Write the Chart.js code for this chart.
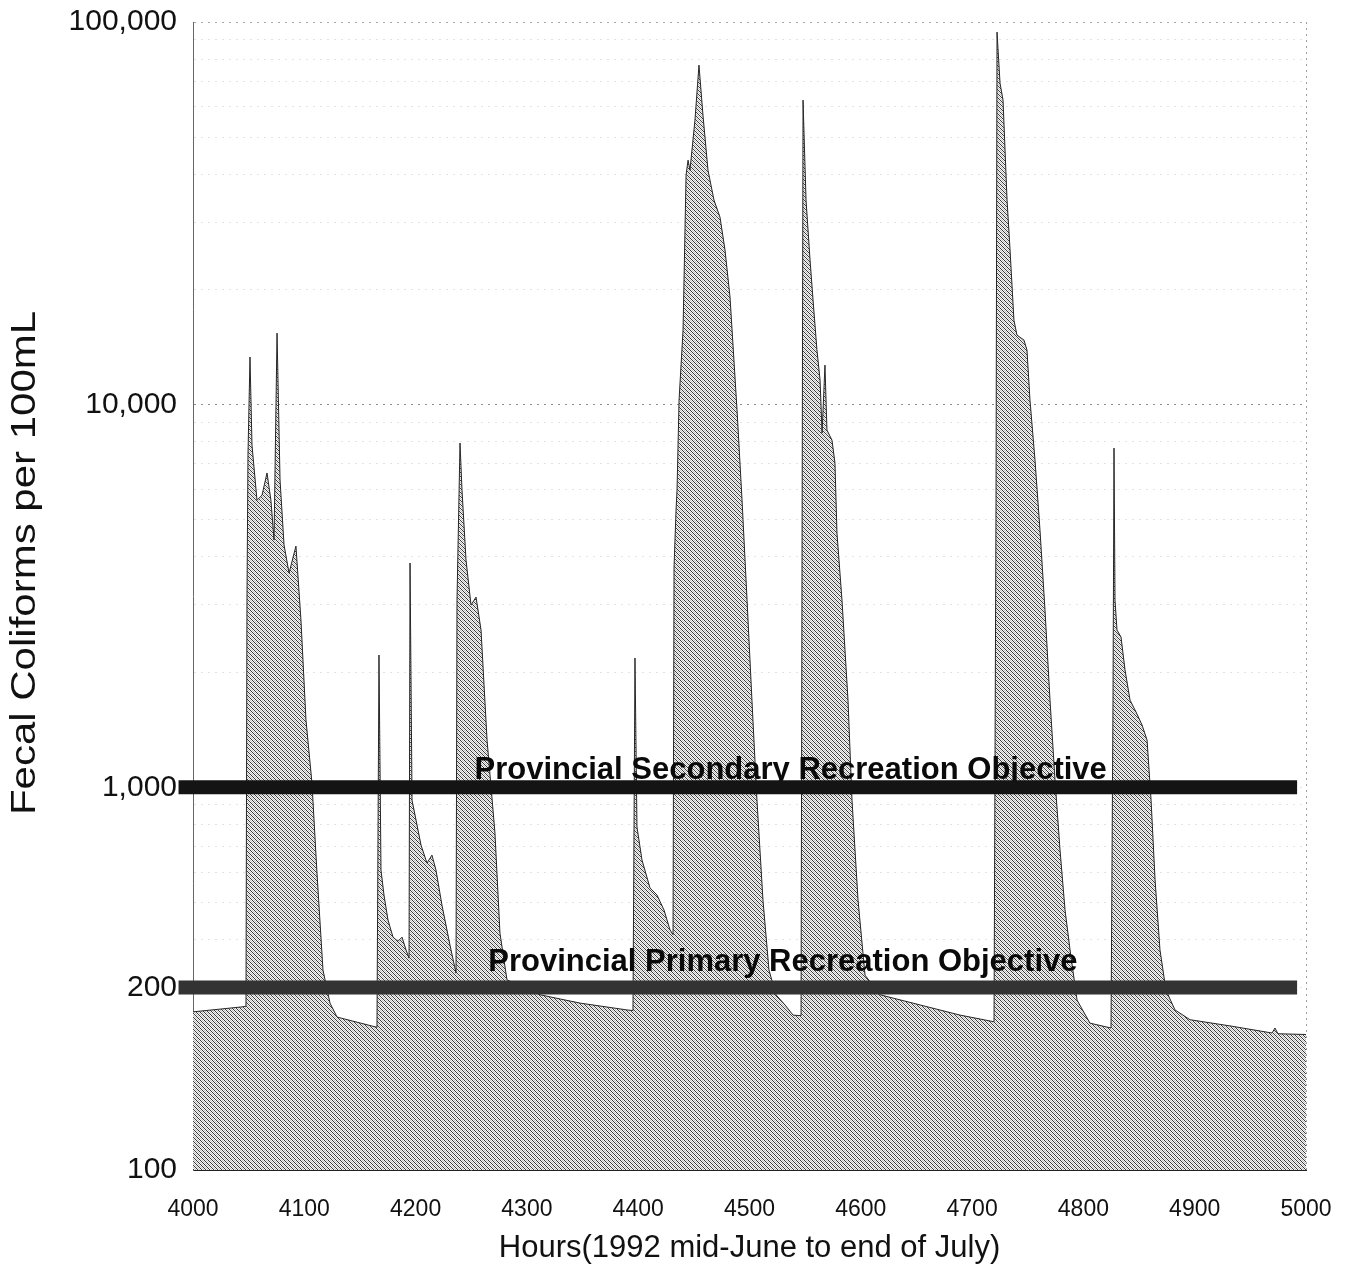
<!DOCTYPE html>
<html>
<head>
<meta charset="utf-8">
<script src="https://cdn.jsdelivr.net/npm/chart.js@4.4.1/dist/chart.umd.min.js"></script>
<style>
  html, body { margin: 0; padding: 0; background: #fff; }
</style>
</head>
<body>
<canvas id="aChart" width="1349" height="1268"></canvas>
<script>
// hourly fecal coliform readings
let hours = [
  4000, 4044.9, 4047.6,
  4048.5, 4049.4, 4051.2, 4053, 4057.5, 4062, 4066.5, 4070, 4072.8, 4075.5, 4078.2, 4081.8, 4086.3, 4092.5, 4097, 4101.5, 4106.9, 4111.4, 4116.8, 4123.1, 4129.4, 4165.3,
  4167.1, 4168.9, 4171.6, 4175.2, 4179.7, 4184.2, 4187.8, 4191.4, 4194.1, 4195, 4196.8, 4200.4, 4204.9, 4210.2, 4214.7, 4218.3, 4223.7, 4230.9, 4236.3,
  4237.2, 4239.9, 4241.7, 4245.3, 4249.8, 4254.3, 4258.8, 4264.2, 4271.3, 4275.8, 4282.1, 4311.8, 4347.7, 4389.9, 4395.3,
  4397.1, 4398.9, 4403.4, 4410.6, 4416.9, 4423.2, 4428.6, 4431.3,
  4432.2, 4434, 4434.9, 4436.7, 4440.3, 4443, 4444.8, 4446.5, 4451, 4454.6, 4458.2, 4462.7, 4468.1, 4473.5, 4478, 4482.5, 4488.8, 4493.3, 4497.8, 4502.2, 4506.7, 4512.1, 4517.5, 4523.8, 4531.9, 4539.1, 4546.3,
  4548.1, 4550.8, 4554.4, 4557.1, 4560.6, 4563.4, 4565.2, 4567.8, 4569.6, 4574.1, 4576.8, 4578.6, 4583.1, 4588.5, 4592.1, 4597.5, 4603.8, 4617.3, 4653.2, 4689.1, 4719.7,
  4721.5, 4722.4, 4725.1, 4727.8, 4731.4, 4734, 4737.6, 4740.3, 4746.6, 4749.3, 4752, 4756.5, 4761, 4765.5, 4770, 4774.5, 4779, 4783.5, 4788, 4794.3, 4805.9, 4824.8,
  4826.6, 4827.5, 4828.4, 4830.2, 4833.8, 4837.4, 4841.9, 4847.3, 4852.7, 4857.2, 4860.8, 4864.4, 4868.8, 4874.2, 4882.3, 4895.8, 4931.7, 4969.5, 4972.1, 4974.8, 5000
]

let coliforms = [
  259, 267, 268,
  3085, 7385, 13320, 7840, 5630, 5800, 6630, 5630, 4430, 15380, 6360, 4300, 3630, 4270, 2735, 1500, 1026, 597, 333, 273, 251, 236,
  2217, 608, 523, 450, 406, 396, 406, 376, 358, 3857, 926, 821, 706, 634, 665, 608, 492, 387, 327,
  3085, 7940, 5980, 3926, 2995, 3142, 2576, 1329, 760, 416, 314, 287, 273, 262, 261,
  2177, 788, 646, 546, 523, 478, 424, 412,
  3764, 5305, 5980, 10280, 15670, 39810, 43550, 41000, 55420, 77150, 57100, 41000, 34250, 30900, 25360, 19100, 9680, 5630, 3085, 1690, 926, 508, 333, 287, 270, 254, 253,
  62500, 34250, 23870, 18760, 13900, 11590, 8430, 12690, 8580, 8080, 7035, 4617, 3085, 1690, 926, 508, 323, 287, 270, 254, 244,
  5630, 94100, 69200, 62500, 34250, 25650, 16630, 15200, 14750, 13900, 10280, 7170, 4700, 2905, 1690, 1045, 686, 478, 376, 278, 242, 235,
  1690, 7700, 3085, 2576, 2470, 2026, 1690, 1573, 1455, 1329, 926, 573, 376, 295, 262, 247, 238, 228, 235, 227, 226
]

let objectiveNames = ["Provincial Secondary Recreation Objective", "Provincial Primary Recreation Objective"]
let objectiveValues = [1000, 300]

// the original labels its lower line "200" although it sits on the 300 gridline
let yTickValues = [100, 300, 1000, 10000, 100000]
let yTickLabels = ["100", "200", "1,000", "10,000", "100,000"]
let xTickValues = [4000, 4100, 4200, 4300, 4400, 4500, 4600, 4700, 4800, 4900, 5000]

const FONT = "'Liberation Sans', Arial, sans-serif"

// halftone-ish diagonal fill like the scanned original
function makeHatch() {
  let c = document.createElement("canvas")
  c.width = 4
  c.height = 4
  let g = c.getContext("2d")
  g.fillStyle = "#f6f6f6"
  g.fillRect(0, 0, 4, 4)
  for (let i = 0; i < 4; i++) {
    g.fillStyle = "#3a3a3a"
    g.fillRect(i, i, 1, 1)
    g.fillStyle = "#bcbcbc"
    g.fillRect(i, (i + 2) % 4, 1, 1)
  }
  return g.createPattern(c, "repeat")
}

// minor log gridlines 200..900, 2000..9000, 20000..90000
let minorTicks = []
for (let d = 100; d < 100000; d *= 10) {
  for (let k = 2; k <= 9; k++) minorTicks.push(k * d)
}

let objectiveStyle = [
  { color: "#141414", labelHour: 4537, lift: 8 },
  { color: "#333333", labelHour: 4530, lift: 16 },
]

let datasets = objectiveValues.map((v, i) => ({
  label: objectiveNames[i],
  data: [{ x: 3987, y: v }, { x: 4992, y: v }],
  borderColor: objectiveStyle[i].color,
  borderWidth: 14,
  borderCapStyle: "butt",
  pointRadius: 0,
  fill: false,
  clip: false,
  order: i + 1,
  objectiveIndex: i,
}))

datasets.push({
  label: "Fecal coliforms",
  data: hours.map((h, i) => ({ x: h, y: coliforms[i] })),
  borderColor: "#262626",
  borderWidth: 1,
  backgroundColor: makeHatch(),
  fill: "start",
  pointRadius: 0,
  tension: 0,
  order: 5,
})

// text goes on before its line, so the line covers the descenders
let objectiveLabels = {
  id: "objectiveLabels",
  beforeDatasetDraw(chart, args) {
    let ds = chart.data.datasets[args.index]
    if (ds.objectiveIndex === undefined) return
    let st = objectiveStyle[ds.objectiveIndex]
    let ctx = chart.ctx
    let x = chart.scales.x.getPixelForValue(st.labelHour)
    let y = chart.scales.y.getPixelForValue(objectiveValues[ds.objectiveIndex])
    ctx.save()
    ctx.font = "bold 31px " + FONT
    ctx.fillStyle = "#0a0a0a"
    ctx.textAlign = "center"
    ctx.textBaseline = "alphabetic"
    ctx.fillText(ds.label, x, y - st.lift)
    ctx.restore()
  },
}

// y title is drawn by hand: it is set a little stretched and above centre
let yTitle = {
  id: "yTitle",
  afterDraw(chart) {
    let ctx = chart.ctx
    ctx.save()
    ctx.translate(25, 563)
    ctx.rotate(-Math.PI / 2)
    ctx.scale(1.2, 1)
    ctx.font = "35px " + FONT
    ctx.fillStyle = "#111"
    ctx.textAlign = "center"
    ctx.textBaseline = "middle"
    ctx.fillText("Fecal Coliforms per 100mL", 0, 0)
    ctx.restore()
  },
}

let aChart = new Chart(document.getElementById("aChart"), {
  type: "line",
  data: { datasets: datasets },
  plugins: [objectiveLabels, yTitle],
  options: {
    responsive: false,
    animation: false,
    layout: { padding: { top: 22, right: 43, left: 0, bottom: 0 } },
    plugins: {
      legend: { display: false },
      tooltip: { enabled: false },
    },
    scales: {
      x: {
        type: "linear",
        min: 4000,
        max: 5000,
        afterBuildTicks: (scale) => {
          scale.ticks = xTickValues.map((v) => ({ value: v }))
        },
        afterFit: (scale) => {
          scale.height = 98
          scale.paddingLeft = 0
          scale.paddingRight = 0
        },
        ticks: {
          autoSkip: false,
          maxRotation: 0,
          padding: 26,
          color: "#111",
          font: { family: FONT, size: 23 },
          callback: (v) => String(v),
        },
        grid: {
          drawTicks: false,
          color: (c) => (c.tick && c.tick.value === 5000 ? "#a0a0a0" : "rgba(0,0,0,0)"),
        },
        border: { display: true, color: "#222", width: 1, dash: [2, 4] },
        title: {
          display: true,
          text: "Hours(1992 mid-June to end of July)",
          color: "#111",
          font: { family: FONT, size: 31 },
          padding: { top: 0, bottom: 1 },
        },
      },
      y: {
        type: "logarithmic",
        min: 100,
        max: 100000,
        afterBuildTicks: (scale) => {
          scale.ticks = yTickValues.concat(minorTicks.filter((v) => !yTickValues.includes(v)))
            .sort((a, b) => a - b)
            .map((v) => ({ value: v }))
        },
        afterFit: (scale) => {
          scale.width = 193
          scale.paddingTop = 0
          scale.paddingBottom = 0
        },
        ticks: {
          autoSkip: false,
          padding: 16,
          color: "#111",
          font: { family: FONT, size: 30 },
          callback: (v) => {
            let i = yTickValues.indexOf(v)
            return i >= 0 ? yTickLabels[i] : ""
          },
        },
        grid: {
          drawTicks: false,
          color: (c) => {
            let v = c.tick ? c.tick.value : 0
            if (v === 10000) return "#8c8c8c"
            if (v === 100000) return "#a8a8a8"
            return "#e2e2e2"
          },
        },
        border: { display: true, color: "#666", width: 1, dash: [2, 5] },
      },
    },
  },
})
</script>
</body>
</html>
